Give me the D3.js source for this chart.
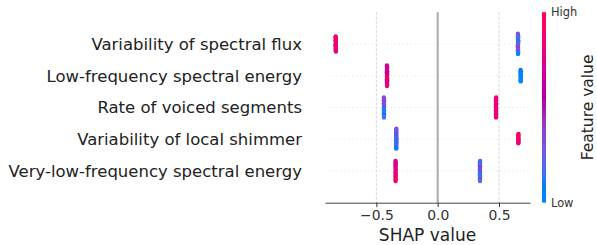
<!DOCTYPE html>
<html>
<head>
<meta charset="utf-8">
<script src="https://cdn.jsdelivr.net/npm/d3@7"></script>
<style>
  html, body { margin: 0; padding: 0; background: #fff; }
  svg { display: block; font-family: "DejaVu Sans", sans-serif; }
</style>
</head>
<body>
<svg id="chart" width="597" height="245"></svg>
<script>
// ---------------- data ----------------
const features = [
  "Variability of spectral flux",
  "Low-frequency spectral energy",
  "Rate of voiced segments",
  "Variability of local shimmer",
  "Very-low-frequency spectral energy"
];

const fluxShap = [-0.832,-0.830,-0.833,-0.831,-0.830,-0.833,-0.832,-0.830,-0.831,-0.833,-0.831,-0.832,-0.830,
  0.655,0.657,0.654,0.656,0.654,0.657,0.655,0.654,0.656,0.657,0.654,0.655,0.656,0.656,0.657,0.654,0.655];
const fluxFeat = [0.92,0.78,1.0,0.85,0.70,0.95,0.88,0.74,1.0,0.82,0.66,0.97,0.80,
  0.30,0.22,0.35,0.18,0.28,0.10,0.32,0.25,0.40,0.15,0.27,0.05,0.33,0.20,0.12,0.30,0.02];

const lowFreqShap = [-0.413,-0.412,-0.414,-0.413,-0.412,-0.414,-0.413,-0.412,-0.413,-0.414,-0.412,-0.413,-0.414,-0.412,-0.413,-0.413,-0.412,-0.414,-0.413,
  0.677,0.678,0.676,0.677,0.678,0.676,0.677,0.678,0.677,0.676,0.677];
const lowFreqFeat = [0.85,0.62,0.95,0.70,1.0,0.55,0.80,0.66,0.90,0.58,0.75,0.98,0.60,0.88,0.72,0.52,0.93,0.68,0.82,
  0.02,0.0,0.05,0.01,0.03,0.0,0.04,0.02,0.0,0.06,0.01];

const voicedShap = [-0.438,-0.437,-0.439,-0.438,-0.437,-0.439,-0.438,-0.437,-0.438,-0.439,-0.438,-0.437,-0.438,-0.439,-0.438,
  0.476,0.475,0.477,0.476,0.475,0.477,0.476,0.475,0.476,0.477,0.476,0.475,0.476,0.477,0.476];
const voicedFeat = [0.10,0.30,0.05,0.38,0.15,0.25,0.0,0.33,0.20,0.42,0.08,0.28,0.12,0.35,0.18,
  0.90,0.72,1.0,0.80,0.95,0.65,0.85,0.98,0.75,0.92,0.70,0.88,1.0,0.78,0.83];

const shimmerShap = [-0.338,-0.337,-0.339,-0.338,-0.337,-0.339,-0.338,-0.337,-0.338,-0.339,-0.338,-0.337,-0.338,-0.339,-0.338,-0.337,-0.338,-0.339,-0.338,-0.337,
  0.658,0.657,0.659,0.658,0.657,0.659,0.658,0.657,0.658,0.659];
const shimmerFeat = [0.25,0.10,0.30,0.05,0.35,0.20,0.0,0.28,0.15,0.40,0.08,0.22,0.32,0.02,0.18,0.38,0.12,0.26,0.06,0.30,
  0.95,0.80,1.0,0.88,0.75,0.98,0.85,0.92,0.78,1.0];

const veryLowShap = [-0.343,-0.342,-0.344,-0.343,-0.342,-0.344,-0.343,-0.342,-0.343,-0.344,-0.343,-0.342,-0.343,-0.344,-0.343,
  0.345,0.344,0.346,0.345,0.344,0.346,0.345,0.344,0.345,0.346,0.345,0.344,0.345,0.346,0.345];
const veryLowFeat = [1.0,0.75,0.90,0.65,0.95,0.80,0.70,1.0,0.85,0.60,0.92,0.78,0.88,0.68,0.97,
  0.30,0.15,0.40,0.05,0.25,0.35,0.10,0.45,0.20,0.32,0.0,0.28,0.38,0.12,0.22];

const xTicks = [-0.5, 0.0, 0.5];
const xLabel = "SHAP value";
const colorLabel = "Feature value";
const colorTickLabels = ["Low", "High"];

// table built from the arrays (top to bottom)
const rows = [
  {name: features[0], shap: fluxShap, feat: fluxFeat},
  {name: features[1], shap: lowFreqShap, feat: lowFreqFeat},
  {name: features[2], shap: voicedShap, feat: voicedFeat},
  {name: features[3], shap: shimmerShap, feat: shimmerFeat},
  {name: features[4], shap: veryLowShap, feat: veryLowFeat}
];

// ---------------- layout ----------------
const svg = d3.select("#chart");
const n = rows.length;
const x = d3.scaleLinear().domain([-0.919, 0.753]).range([325, 530]);
// rows at positions n-1 .. 0 (top to bottom), ylim (-1, n)
const y = d3.scaleLinear().domain([-1, n]).range([202.7, 12.2]);
const axisY = y(-1);

// SHAP red-blue colormap (LCh interpolation)
function redBlue(t) {
  t = Math.max(0, Math.min(1, t));
  const h = 266.93 + t * (380.32 - 266.93);
  const c = 70 + 20 * t;
  const l = t < 0.5 ? 54 - 28 * t : 40 + 28 * (t - 0.5);
  return d3.hcl(h % 360, c, l).formatHex();
}

// vertical grid lines
svg.append("g").selectAll("line").data(xTicks).join("line")
  .attr("x1", d => x(d)).attr("x2", d => x(d))
  .attr("y1", y(n)).attr("y2", axisY)
  .attr("stroke", "#d8d8d8").attr("stroke-width", 1)
  .attr("stroke-dasharray", "3,1.5");

// horizontal dotted row lines
svg.append("g").selectAll("line").data(rows).join("line")
  .attr("x1", x.range()[0]).attr("x2", x.range()[1])
  .attr("y1", (d, i) => y(n - 1 - i)).attr("y2", (d, i) => y(n - 1 - i))
  .attr("stroke", "#cccccc").attr("stroke-width", 0.7)
  .attr("stroke-dasharray", "0.7,3.2");

// zero line
svg.append("line")
  .attr("x1", x(0)).attr("x2", x(0))
  .attr("y1", y(n)).attr("y2", axisY)
  .attr("stroke", "#aaaaaa").attr("stroke-width", 2);

// beeswarm points (SHAP-style binned layering)
const rowHeight = 0.4, nbins = 100;
const pts = [];
rows.forEach((r, i) => {
  const pos = n - 1 - i;
  const N = r.shap.length;
  const mn = d3.min(r.shap), mx = d3.max(r.shap);
  const quant = r.shap.map(v => Math.round(nbins * (v - mn) / (mx - mn + 1e-8)));
  const inds = d3.range(N).sort((a, b) => quant[a] - quant[b] || a - b);
  const ys = new Array(N).fill(0);
  let layer = 0, lastBin = -1;
  inds.forEach(ind => {
    if (quant[ind] !== lastBin) layer = 0;
    ys[ind] = Math.ceil(layer / 2) * ((layer % 2) * 2 - 1);
    layer += 1;
    lastBin = quant[ind];
  });
  const scale = 0.9 * (rowHeight / d3.max(ys.map(v => v + 1)));
  for (let k = 0; k < N; k++) {
    pts.push({sx: r.shap[k], sy: pos + ys[k] * scale, f: r.feat[k]});
  }
});

svg.append("g").selectAll("circle").data(pts).join("circle")
  .attr("cx", d => x(d.sx)).attr("cy", d => y(d.sy))
  .attr("r", 2.2)
  .attr("fill", d => redBlue(d.f));

// x axis
const xAxis = d3.axisBottom(x).tickValues(xTicks)
  .tickFormat(d => d3.format(".1f")(d).replace("-", "\u2212"))
  .tickSize(4.4).tickSizeOuter(0).tickPadding(3.5);
const gx = svg.append("g").attr("transform", `translate(0,${axisY})`).call(xAxis);
gx.select(".domain").attr("stroke", "#444").attr("stroke-width", 1);
gx.selectAll(".tick line").attr("stroke", "#333");
gx.selectAll(".tick text").attr("fill", "#333")
  .style("font-family", "DejaVu Sans").style("font-size", "13.9px");

svg.append("text")
  .attr("x", (x.range()[0] + x.range()[1]) / 2).attr("y", 240.5)
  .attr("text-anchor", "middle").attr("fill", "#222")
  .style("font-size", "17px").text(xLabel);

// feature labels
svg.append("g").selectAll("text").data(rows).join("text")
  .attr("x", 302).attr("y", (d, i) => y(n - 1 - i))
  .attr("dy", "0.36em").attr("text-anchor", "end")
  .attr("fill", "#222").style("font-size", "16.5px")
  .text(d => d.name);

// colorbar
const defs = svg.append("defs");
const grad = defs.append("linearGradient").attr("id", "cbar")
  .attr("x1", 0).attr("y1", 1).attr("x2", 0).attr("y2", 0);
d3.range(0, 1.0001, 0.02).forEach(t => {
  grad.append("stop").attr("offset", t).attr("stop-color", redBlue(t));
});
const cbTop = y(n), cbBot = axisY;
svg.append("rect")
  .attr("x", 542).attr("y", cbTop).attr("width", 4).attr("height", cbBot - cbTop)
  .attr("fill", "url(#cbar)");
const cScale = d3.scaleLinear().domain([0, 1]).range([cbBot, cbTop]);
svg.append("g").selectAll("text").data(colorTickLabels).join("text")
  .attr("x", 551).attr("y", (d, i) => cScale(i))
  .attr("dy", "0.36em").attr("fill", "#333")
  .style("font-size", "11.4px").text(d => d);
svg.append("text")
  .attr("transform", `translate(593,${(cbTop + cbBot) / 2}) rotate(-90)`)
  .attr("text-anchor", "middle").attr("fill", "#222")
  .style("font-size", "15.5px").text(colorLabel);
</script>
</body>
</html>
